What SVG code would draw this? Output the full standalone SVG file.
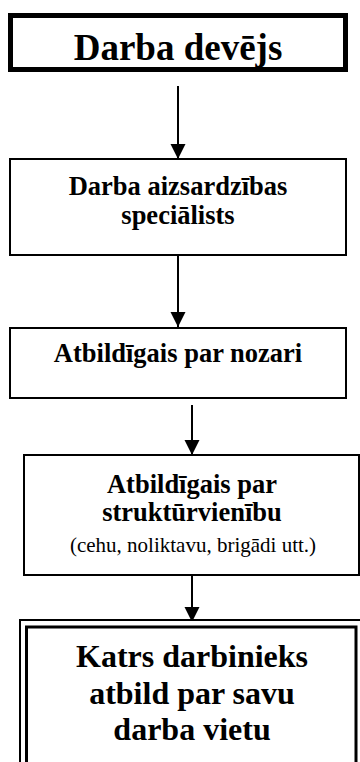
<svg xmlns="http://www.w3.org/2000/svg" width="360" height="762" viewBox="0 0 360 762">
<style>
.box{fill:#fff;stroke:#000}
.b{font-family:"Liberation Serif","Times New Roman",serif;font-weight:bold;text-anchor:middle;fill:#000}
.r{font-family:"Liberation Serif","Times New Roman",serif;text-anchor:middle;fill:#000}
.ln{stroke:#000;stroke-width:2;fill:none}
</style>
<defs>
<marker id="ah" markerUnits="userSpaceOnUse" markerWidth="16" markerHeight="16" refX="15" refY="7.5" orient="auto">
<path d="M0,0 L15,7.5 L0,15 Z" fill="#000"/>
</marker>
</defs>
<rect width="360" height="762" fill="#fff"/>
<g id="connectors">
<line class="ln" x1="178" y1="86" x2="178" y2="159" marker-end="url(#ah)"/>
<line class="ln" x1="178" y1="256" x2="178" y2="327" marker-end="url(#ah)"/>
<line class="ln" x1="192" y1="405" x2="192" y2="455" marker-end="url(#ah)"/>
<line class="ln" x1="192" y1="576" x2="192" y2="622" marker-end="url(#ah)"/>
</g>
<g id="n1">
<rect class="box" x="10.5" y="15.5" width="335" height="54" stroke-width="5"/>
<text class="b" x="178" y="60" font-size="37">Darba devējs</text>
</g>
<g id="n2">
<rect class="box" x="10" y="159" width="336" height="96" stroke-width="2"/>
<text class="b" x="178" y="195" font-size="26.5">Darba aizsardzības</text>
<text class="b" x="178" y="224" font-size="26.5">speciālists</text>
</g>
<g id="n3">
<rect class="box" x="10" y="328" width="336" height="70" stroke-width="2"/>
<text class="b" x="178" y="362" font-size="26.5">Atbildīgais par nozari</text>
</g>
<g id="n4">
<rect class="box" x="24" y="455" width="335" height="120" stroke-width="2"/>
<text class="b" x="192" y="493" font-size="26.5">Atbildīgais par</text>
<text class="b" x="192" y="521" font-size="26.5">struktūrvienību</text>
<text class="r" x="193" y="552" font-size="21">(cehu, noliktavu, brigādi utt.)</text>
</g>
<g id="n5">
<rect class="box" x="20" y="620" width="344" height="200" stroke-width="2"/>
<rect x="26.5" y="627" width="329.5" height="200" fill="none" stroke="#000" stroke-width="3"/>
<text class="b" x="192" y="667" font-size="32">Katrs darbinieks</text>
<text class="b" x="192" y="704" font-size="32">atbild par savu</text>
<text class="b" x="192" y="740" font-size="32">darba vietu</text>
</g>
</svg>
